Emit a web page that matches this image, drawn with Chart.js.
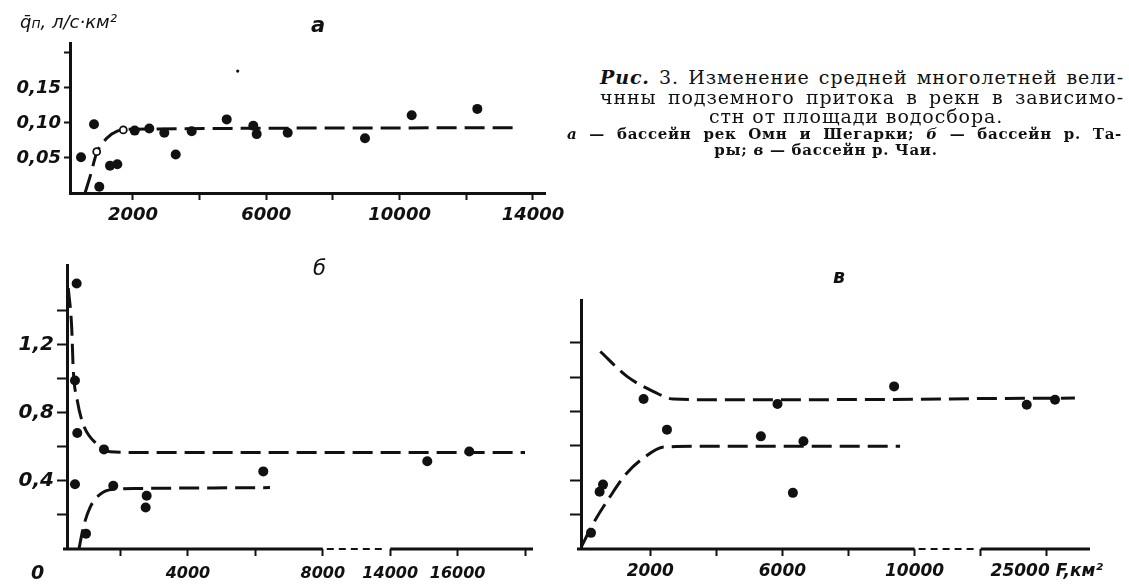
<!DOCTYPE html>
<html lang="ru">
<head>
<meta charset="utf-8">
<title>Рис. 3</title>
<script src="https://cdn.jsdelivr.net/npm/chart.js@4.4.1/dist/chart.umd.min.js"></script>
<style>
  html, body { margin: 0; padding: 0; background: #fff; }
  #page { position: relative; width: 1129px; height: 585px; overflow: hidden; color: #111; font-family: 'DejaVu Sans', sans-serif; }
  canvas { position: absolute; }
  .lbl { position: absolute; white-space: nowrap; font-style: italic; line-height: 1; }
  .cap { position: absolute; font-family: 'DejaVu Serif', serif; line-height: 1; white-space: nowrap; }
  .just { text-align: justify; text-align-last: justify; white-space: normal; }
</style>
</head>
<body>
<div id="page">
  <canvas id="chartA" width="580" height="240" style="left:0px;top:0px"></canvas>
  <canvas id="chartB" width="560" height="345" style="left:0px;top:240px"></canvas>
  <canvas id="chartV" width="569" height="345" style="left:560px;top:240px"></canvas>

  <div class="lbl" style="left:20px;top:13px;font-size:18px">q̄<span style="font-size:14px">п</span>, л/с·км²</div>
  <div class="lbl" style="left:311px;top:15px;font-size:21px;font-weight:bold">а</div>
  <div class="lbl" style="left:313px;top:258px;font-size:21px">б</div>
  <div class="lbl" style="left:833px;top:267px;font-size:19px;font-weight:bold">в</div>
  <div class="lbl" style="left:31px;top:563px;font-size:19px;font-weight:bold">0</div>

  <div class="cap just" style="left:600px;top:68px;width:524px;font-size:19px;letter-spacing:0.9px"><i><b>Рис.</b></i> 3. Изменение средней многолетней вели-</div>
  <div class="cap just" style="left:600px;top:88px;width:524px;font-size:19px;letter-spacing:0.9px">чнны подземного притока в рекн в зависимо-</div>
  <div class="cap" style="left:670px;top:107px;width:372px;text-align:center;font-size:19px;letter-spacing:0.9px">стн от площади водосбора.</div>
  <div class="cap just" style="left:567px;top:127px;width:555px;font-size:15px;font-weight:bold;letter-spacing:0.7px"><i>а</i> — бассейн рек Омн и Шегарки; <i>б</i> — бассейн р. Та-</div>
  <div class="cap" style="left:686px;top:143px;width:280px;text-align:center;font-size:15px;font-weight:bold;letter-spacing:0.7px">ры; <i>в</i> — бассейн р. Чаи.</div>
</div>

<script>
// а — бассейн рек Оми и Шегарки (F, км² / q, л/с·км²)
const areaA = [441, 831, 990, 1311, 1530, 2052, 2490, 2940, 3282, 3762, 4812, 5610, 5712, 6642, 8961, 10362, 12330];
const flowA = [0.051, 0.098, 0.009, 0.039, 0.041, 0.089, 0.092, 0.086, 0.055, 0.088, 0.105, 0.096, 0.084, 0.086, 0.078, 0.111, 0.120];
const areaAOpen = [912, 1710];
const flowAOpen = [0.059, 0.090];
const areaASpeck = [5142];
const flowASpeck = [0.174];
const curveAx = [561, 711, 912, 1212, 1512, 2010, 13550];
const curveAy = [0, 0.023, 0.057, 0.078, 0.088, 0.091, 0.093];

// б — бассейн р. Тары
const areaB = [697, 647, 715, 647, 1507, 1783, 973, 2774, 2744, 6234, 15100, 16346];
const flowB = [1.557, 0.988, 0.68, 0.38, 0.584, 0.371, 0.09, 0.312, 0.243, 0.455, 0.514, 0.572];
const upperBx = [448, 549, 596, 715, 893, 1291, 1685, 2400, 8000, 14000, 18000];
const upperBy = [1.53, 1.30, 1.05, 0.87, 0.73, 0.616, 0.57, 0.566, 0.566, 0.566, 0.566];
const lowerBx = [765, 893, 1092, 1389, 1783, 2500, 6432];
const lowerBy = [0, 0.125, 0.243, 0.32, 0.35, 0.355, 0.36];

// в — бассейн р. Чаи
const areaV = [206, 569, 466, 1797, 2505, 5348, 5850, 6636, 6316, 9380, 24394, 25250];
const flowV = [0.094, 0.375, 0.333, 0.873, 0.695, 0.656, 0.844, 0.627, 0.327, 0.947, 0.840, 0.869];
const upperVx = [487, 1295, 2099, 2704, 4000, 10000, 23000, 25852];
const upperVy = [1.15, 1.005, 0.917, 0.873, 0.869, 0.872, 0.876, 0.879];
const lowerVx = [-79, 284, 789, 1295, 1797, 2402, 3500, 9561];
const lowerVy = [0.016, 0.152, 0.307, 0.443, 0.53, 0.594, 0.598, 0.598];

// ticks
const yTicksA = [0.05, 0.10, 0.15, 0.20];
const yLabelsA = ['0,05', '0,10', '0,15', ''];
const xTicksA = [2000, 4000, 6000, 8000, 10000, 12000, 14000];
const xLabelsA = ['2000', '', '6000', '', '10000', '', '14000'];

const yTicksB = [0.2, 0.4, 0.6, 0.8, 1.0, 1.2, 1.4];
const yLabelsB = ['', '0,4', '', '0,8', '', '1,2', ''];
const xTicksB = [2000, 4000, 6000, 8000, 14000, 16000, 18000];
const xLabelsB = ['', '4000', '', '8000', '14000', '16000', ''];
const breakB = [8000, 14000];

const yTicksV = [0.2, 0.4, 0.6, 0.8, 1.0, 1.2];
const yLabelsV = ['', '', '', '', '', ''];
const xTicksV = [2000, 4000, 6000, 8000, 10000, 23000, 25000];
const xLabelsV = ['2000', '', '6000', '', '10000', '', '25000 F,км²'];
const breakV = [10000, 23000];

const INK = '#111';
const tickFont = size => ({ family: "'DejaVu Sans', sans-serif", style: 'italic', weight: 'bold', size: size });

// the axis is broken: the span between brk[0] and brk[1] takes one tick step
function squeeze(brk) {
    const step = 2000;
    return v => {
        if (v <= brk[0]) return v;
        if (v >= brk[1]) return v - (brk[1] - brk[0]) + step;
        return brk[0] + (v - brk[0]) * step / (brk[1] - brk[0]);
    };
}
const same = v => v;

function pts(xs, ys, map) {
    return xs.map((x, i) => ({ x: map(x), y: ys[i] }));
}

function dots(data, radius) {
    return { data: data, showLine: false, pointRadius: radius, pointBackgroundColor: INK, pointBorderWidth: 0, pointHoverRadius: radius };
}
function rings(data) {
    return { data: data, showLine: false, pointRadius: 3.5, pointBackgroundColor: '#fff', pointBorderColor: INK, pointBorderWidth: 1.8 };
}
function dashed(data) {
    return { data: data, showLine: true, pointRadius: 0, borderColor: INK, borderWidth: 3,
             borderDash: [20, 8], cubicInterpolationMode: 'monotone', fill: false };
}

function xAxis(min, max, tickVals, labels, height, fontSize, pad, border) {
    return {
        type: 'linear', min: min, max: max,
        afterBuildTicks: s => { s.ticks = tickVals.map(v => ({ value: v })); },
        afterFit: s => { s.height = height; },
        ticks: { autoSkip: false, maxRotation: 0, padding: pad, color: INK, font: tickFont(fontSize),
                 callback: (v, i) => labels[i] },
        grid: { drawOnChartArea: false, drawTicks: true, tickLength: 7, tickWidth: 2, color: INK },
        border: { display: border, width: 3, color: INK }
    };
}
function yAxis(min, max, tickVals, labels, width, fontSize, tickLen) {
    return {
        type: 'linear', min: min, max: max,
        afterBuildTicks: s => { s.ticks = tickVals.map(v => ({ value: v })); },
        afterFit: s => { s.width = width; },
        ticks: { autoSkip: false, padding: 3, color: INK, font: tickFont(fontSize),
                 callback: (v, i) => labels[i] },
        grid: { drawOnChartArea: false, drawTicks: true, tickLength: tickLen, tickWidth: 2, color: INK },
        border: { display: true, width: 3, color: INK }
    };
}

// draws the x axis line with a dashed piece over the break
const brokenAxis = {
    id: 'brokenAxis',
    afterDatasetsDraw(chart, args, opts) {
        if (!opts.gap) return;
        const x = chart.scales.x, area = chart.chartArea, ctx = chart.ctx;
        const p0 = x.getPixelForValue(opts.gap[0]);
        const p1 = x.getPixelForValue(opts.gap[1]);
        const y = area.bottom;
        ctx.save();
        ctx.strokeStyle = INK;
        ctx.lineWidth = 3;
        ctx.beginPath();
        ctx.moveTo(area.left - 4, y); ctx.lineTo(p0, y);
        ctx.moveTo(p1, y); ctx.lineTo(area.right, y);
        ctx.stroke();
        ctx.lineWidth = 2;
        ctx.setLineDash([7, 5]);
        ctx.beginPath();
        ctx.moveTo(p0 + 4, y); ctx.lineTo(p1 - 4, y);
        ctx.stroke();
        ctx.restore();
    }
};

function makeChart(id, datasets, scales, padding, gap) {
    return new Chart(document.getElementById(id), {
        type: 'scatter',
        data: { datasets: datasets },
        options: {
            responsive: false, animation: false, devicePixelRatio: 1, events: [],
            layout: { padding: padding, autoPadding: false },
            plugins: { legend: { display: false }, tooltip: { enabled: false }, brokenAxis: { gap: gap } },
            scales: scales
        },
        plugins: [brokenAxis]
    });
}

document.addEventListener('DOMContentLoaded', () => {
    const mapB = squeeze(breakB);
    const mapV = squeeze(breakV);

    makeChart('chartA', [
        dots(pts(areaA, flowA, same), 5),
        dots(pts(areaASpeck, flowASpeck, same), 1.6),
        rings(pts(areaAOpen, flowAOpen, same)),
        dashed(pts(curveAx, curveAy, same))
    ], {
        x: xAxis(111, 14361, xTicksA, xLabelsA, 47, 18, 5, true),
        y: yAxis(0, 0.214, yTicksA, yLabelsA, 70, 18, 6)
    }, { top: 43, right: 35, left: 0, bottom: 0 }, null);

    makeChart('chartB', [
        dots(pts(areaB, flowB, mapB), 5),
        dashed(pts(upperBx, upperBy, mapB)),
        dashed(pts(lowerBx, lowerBy, mapB))
    ], {
        x: xAxis(410, 14237, xTicksB.map(mapB), xLabelsB, 36, 16, 8, false),
        y: yAxis(0, 1.665, yTicksB, yLabelsB, 67, 20, 10)
    }, { top: 25, right: 27, left: 0, bottom: 0 }, breakB.map(mapB));

    makeChart('chartV', [
        dots(pts(areaV, flowV, mapV), 5),
        dashed(pts(upperVx, upperVy, mapV)),
        dashed(pts(lowerVx, lowerVy, mapV))
    ], {
        x: xAxis(-97, 15309, xTicksV.map(mapV), xLabelsV, 36, 17, 5, false),
        y: yAxis(0, 1.45, yTicksV, yLabelsV, 21, 16, 11)
    }, { top: 60, right: 39, left: 0, bottom: 0 }, breakV.map(mapV));
});
</script>
</body>
</html>
